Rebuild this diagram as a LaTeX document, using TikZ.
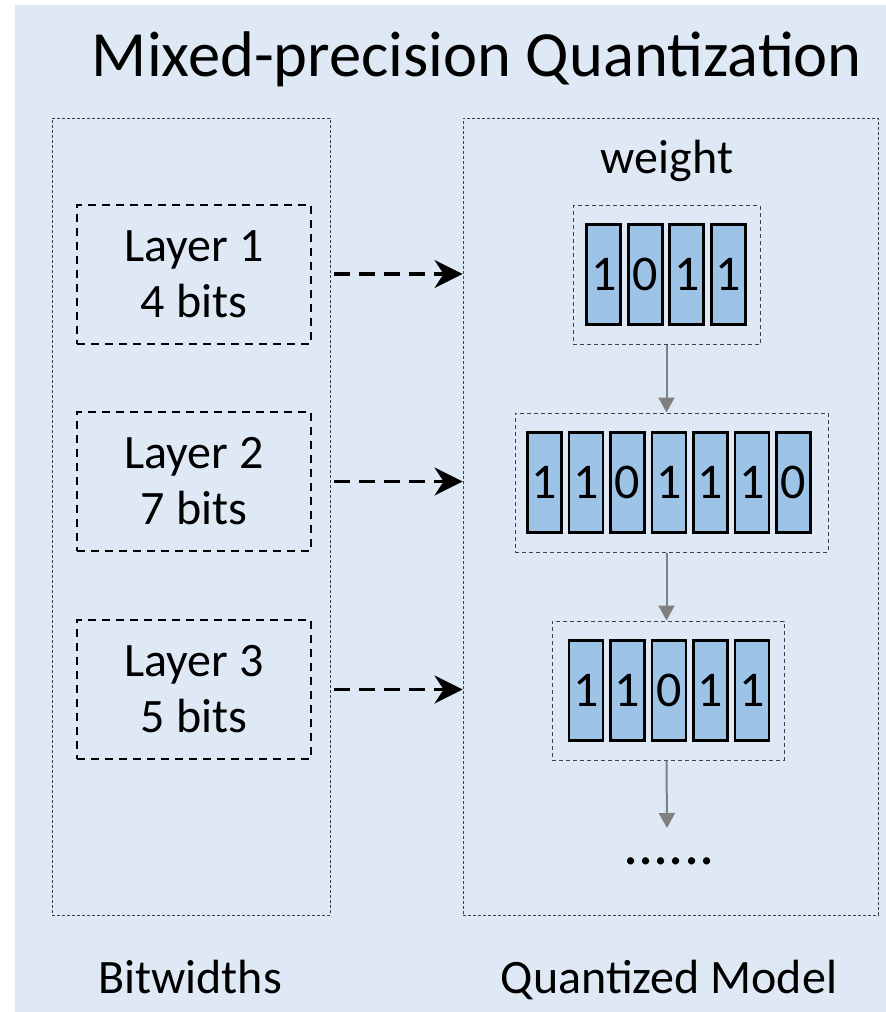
\documentclass[tikz,border=0pt]{standalone}
\usepackage{fontspec}
\setmainfont{Carlito}
\usetikzlibrary{arrows.meta}

\definecolor{bgblue}{RGB}{222,233,245}
\definecolor{cellblue}{RGB}{157,195,230}
\definecolor{linkgray}{RGB}{128,128,128}

\begin{document}
\begin{tikzpicture}[x=1pt, y=-1pt,
    every node/.style={inner sep=0pt, font=\fontsize{48}{56}\selectfont},
    outerbox/.style={draw=black!75, line width=0.9pt, dash pattern=on 3pt off 2pt, minimum height=797pt},
    layerbox/.style={draw=black, line width=2pt, dash pattern=on 8pt off 6pt, align=center, minimum width=234pt, minimum height=139pt},
    wbox/.style={draw=black!75, line width=1pt, dash pattern=on 4pt off 3pt, minimum height=139pt},
    cell/.style={draw=black, fill=cellblue, line width=2.6pt, minimum width=34pt, minimum height=100pt, font=\fontsize{50}{50}\selectfont},
    dasharrow/.style={line width=3.6pt, dash pattern=on 16pt off 9pt, -{Stealth[length=28pt, width=28pt, inset=9pt]}},
    grayarrow/.style={draw=linkgray, line width=2pt, -{Triangle[length=15pt, width=16pt]}}
]
    \fill[bgblue] (15,5) rectangle (886,1012);
    \useasboundingbox (0,0) rectangle (886,1012);

    \node[anchor=base, font=\fontsize{64.5}{70}\selectfont] (title) at (477,76) {Mixed-precision Quantization};

    \node[outerbox, minimum width=278pt] (bw) at (191,516.5) {};
    \node[outerbox, minimum width=415pt] (qm) at (670.5,516.5) {};

    \node[layerbox] (l1) at (194,274) {Layer 1\\4 bits};
    \node[layerbox] (l2) at (194,481.5) {Layer 2\\7 bits};
    \node[layerbox] (l3) at (194,689.5) {Layer 3\\5 bits};

    \node[anchor=base] (weight) at (667,173) {weight};

    \node[wbox, minimum width=187pt] (w1) at (666.5,275) {};
    \node[wbox, minimum width=313pt] (w2) at (671.5,482.5) {};
    \node[wbox, minimum width=232pt] (w3) at (668,690.5) {};

    \foreach \d [count=\i] in {1,0,1,1}
        \node[cell] (a\i) at ({666+(\i-2.5)*41.5},274.5) {\d};
    \foreach \d [count=\i] in {1,1,0,1,1,1,0}
        \node[cell] (b\i) at ({669+(\i-4)*41.5},482.5) {\d};
    \foreach \d [count=\i] in {1,1,0,1,1}
        \node[cell] (c\i) at ({669+(\i-3)*41.5},690.5) {\d};

    \foreach \i in {1,2,3}
        \draw[dasharrow, shorten <=4pt] (bw.east |- l\i) -- (qm.west |- l\i);

    \coordinate (more) at (667,828);
    \node[anchor=base, font=\fontsize{60}{60}\selectfont] (dots) at (669,864) {......};

    \draw[grayarrow] (w1.south) -- (w1.south |- w2.north);
    \draw[grayarrow] (w2.south -| w1.south) -- (w1.south |- w3.north);
    \draw[grayarrow] (w3.south -| w1.south) -- (more);

    \node[anchor=base] (bwlabel) at (190,993) {Bitwidths};
    \node[anchor=base] (qmlabel) at (669,993) {Quantized Model};
\end{tikzpicture}
\end{document}
